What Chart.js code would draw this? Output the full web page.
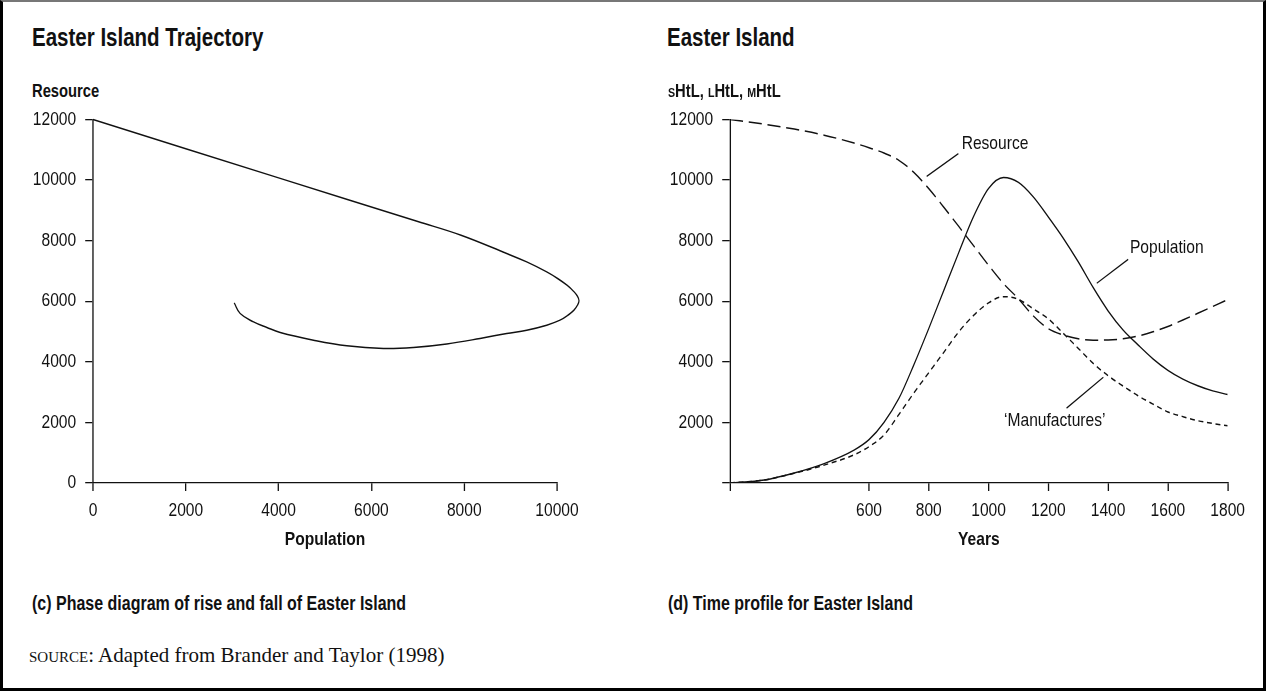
<!DOCTYPE html>
<html>
<head>
<meta charset="utf-8">
<title>Easter Island</title>
<script src="https://cdn.jsdelivr.net/npm/chart.js@4.4.1/dist/chart.umd.min.js"></script>
<style>
  html, body { margin: 0; padding: 0; background: #fff; }
  body { position: relative; width: 1266px; height: 691px; overflow: hidden;
         font-family: 'Liberation Sans', Arial, sans-serif; color: #111; }
  #frame { position: absolute; left: 0; top: 0; width: 1266px; height: 691px; box-sizing: border-box;
           border: 3px solid #000; border-top: 2px solid #777; z-index: 5; }
  .t { position: absolute; white-space: nowrap; line-height: 1; }
  /* narrow look: squeeze regular Liberation Sans horizontally */
  .n { transform: scaleX(0.82); transform-origin: 0 0; }
  .title { font-size: 25px; font-weight: bold; top: 25px; }
  .ylab { font-size: 18px; font-weight: bold; top: 82px; }
  .cap { font-size: 19.5px; font-weight: bold; top: 594px; }
  .sc { font-variant: small-caps; }
  .src { font-family: 'Liberation Serif', 'DejaVu Serif', serif; font-size: 21px; top: 645px; left: 29px; }
  canvas { position: absolute; top: 97px; }
</style>
</head>
<body>
<div id="frame"></div>

<div class="t n title" style="left:32px">Easter Island Trajectory</div>
<div class="t n ylab" style="left:32px">Resource</div>
<canvas id="phase" width="680" height="463" style="left:30px"></canvas>
<div class="t n cap" style="left:32px">(c) Phase diagram of rise and fall of Easter Island</div>

<div class="t n title" style="left:667px">Easter Island</div>
<div class="t n ylab" style="left:668px"><span class="sc">s</span>HtL, <span class="sc">l</span>HtL, <span class="sc">m</span>HtL</div>
<canvas id="profile" width="729" height="463" style="left:660px"></canvas>
<div class="t n cap" style="left:668px">(d) Time profile for Easter Island</div>

<div class="t src"><span class="sc">source</span>: Adapted from Brander and Taylor (1998)</div>

<script>
// phase diagram: population vs resource along the trajectory
const trajPopulation = [0, 4000, 7000, 7932, 8916, 9347, 9778, 10021, 10215, 10355, 10441, 10474, 10441, 10366, 10237, 10065, 9778, 9347, 8916, 8342, 7624, 6905, 6259, 5470, 4752, 4034, 3747, 3460, 3172, 3043];
const trajResource   = [12000, 10070, 8630, 8177, 7573, 7297, 6967, 6742, 6528, 6330, 6165, 6017, 5869, 5704, 5539, 5374, 5209, 5044, 4934, 4770, 4590, 4473, 4440, 4528, 4715, 4968, 5132, 5318, 5594, 5945];

// time profile
const years        = [135, 250, 350, 450, 550, 600, 650, 700, 750, 800, 850, 900, 950, 1000, 1050, 1100, 1150, 1200, 1250, 1300, 1350, 1400, 1450, 1500, 1550, 1600, 1650, 1700, 1750, 1800];
const resource     = [12000, 11840, 11680, 11480, 11220, 11065, 10890, 10650, 10250, 9715, 9105, 8470, 7830, 7185, 6580, 6080, 5510, 5090, 4885, 4760, 4715, 4720, 4760, 4850, 4990, 5165, 5380, 5600, 5825, 6050];
const population   = [0, 100, 330, 640, 1085, 1430, 2000, 2790, 3900, 5100, 6350, 7600, 8800, 9720, 10080, 9920, 9440, 8780, 8080, 7300, 6450, 5680, 5050, 4560, 4100, 3720, 3430, 3210, 3040, 2920];
const manufactures = [0, 100, 320, 590, 930, 1200, 1580, 2260, 2970, 3640, 4310, 4985, 5530, 5945, 6150, 6060, 5745, 5415, 4940, 4445, 3950, 3540, 3200, 2880, 2605, 2345, 2190, 2055, 1965, 1890];

const yearTicks = [600, 800, 1000, 1200, 1400, 1600, 1800];
const yearStart = 135;

const notes = [
  { text: 'Resource', x: 910, y: 11180, from: [793, 10120], to: [899, 10870] },
  { text: 'Population', x: 1473, y: 7750, from: [1362, 6590], to: [1467, 7380] },
  { text: '\u2018Manufactures\u2019', x: 1052, y: 2050, from: [1261, 2470], to: [1384, 3490] }
];

const FONT = "'Liberation Sans', Arial, sans-serif";
const NARROW = 0.82; // horizontal squeeze so the text reads like a condensed face
Chart.defaults.font.family = FONT;
Chart.defaults.color = '#111';

const ink = '#111';

// draw everything squeezed horizontally; sizes below are in unsqueezed units
const narrowPlugin = {
  id: 'narrow',
  beforeDraw(chart) {
    chart.ctx.setTransform(NARROW, 0, 0, 1, 0, 0);
  },
};

function pairs(xs, ys) {
  return xs.map((x, i) => ({ x: x, y: ys[i] }));
}

function xAxis(extra) {
  return Object.assign({
    type: 'linear',
    grid: { drawOnChartArea: false, color: ink, tickLength: 8, lineWidth: 1.6 },
    border: { color: ink, width: 1.3 },
    afterFit: (s) => { s.height = 77; },
  }, extra);
}

function yAxis(extra) {
  return Object.assign({
    type: 'linear',
    min: 0, max: 12000,
    grid: { drawOnChartArea: false, color: ink, tickLength: 9.5, lineWidth: 1.3 },
    border: { color: ink, width: 1.6 },
  }, extra);
}

const tickFont = { size: 19 };
const titleFont = { size: 19, weight: 'bold' };

new Chart(document.getElementById('phase'), {
  type: 'scatter',
  data: {
    datasets: [{
      data: pairs(trajPopulation, trajResource),
      showLine: true,
      borderColor: ink,
      borderWidth: 1.5,
      pointRadius: 0,
      tension: 0.4,
      capBezierPoints: false,
      clip: false,
    }],
  },
  options: {
    responsive: false,
    animation: false,
    // the nose of the loop runs past the 10000 end of the axis
    elements: { line: { capBezierPoints: false } },
    layout: { padding: { top: 0, right: 37.3, bottom: 0, left: 0 } },
    plugins: { legend: { display: false }, tooltip: { enabled: false } },
    scales: {
      x: xAxis({
        min: 0, max: 10000,
        ticks: { stepSize: 2000, font: tickFont, padding: 8, color: ink, callback: (v) => String(v) },
        title: { display: true, text: 'Population', color: ink, font: titleFont, padding: { top: 0, bottom: 9 } },
      }),
      y: yAxis({
        ticks: { stepSize: 2000, font: tickFont, padding: 11, color: ink, callback: (v) => String(v) },
        afterFit: (s) => { s.width = 63 / NARROW; },
      }),
    },
  },
  plugins: [narrowPlugin],
});

const notePlugin = {
  id: 'notes',
  afterDatasetsDraw(chart) {
    const { ctx, scales: { x, y } } = chart;
    ctx.save();
    ctx.strokeStyle = ink;
    ctx.fillStyle = ink;
    ctx.lineWidth = 1.3;
    ctx.font = '19px ' + FONT;
    ctx.textBaseline = 'middle';
    notes.forEach((n) => {
      ctx.beginPath();
      ctx.moveTo(x.getPixelForValue(n.from[0]), y.getPixelForValue(n.from[1]));
      ctx.lineTo(x.getPixelForValue(n.to[0]), y.getPixelForValue(n.to[1]));
      ctx.stroke();
      ctx.fillText(n.text, x.getPixelForValue(n.x), y.getPixelForValue(n.y));
    });
    ctx.restore();
  },
};

const line = (vals, dash) => ({
  data: pairs(years, vals),
  showLine: true,
  borderColor: ink,
  borderWidth: 1.5,
  borderDash: dash,
  pointRadius: 0,
  cubicInterpolationMode: 'monotone',
});

new Chart(document.getElementById('profile'), {
  type: 'scatter',
  data: {
    datasets: [
      line(resource, [16, 7]),
      line(population, []),
      line(manufactures, [6, 4.5]),
    ],
  },
  options: {
    responsive: false,
    animation: false,
    layout: { padding: { top: 0, right: 36.7, bottom: 0, left: 0 } },
    plugins: { legend: { display: false }, tooltip: { enabled: false } },
    scales: {
      x: xAxis({
        min: yearStart, max: 1800,
        afterBuildTicks: (s) => { s.ticks = [yearStart].concat(yearTicks).map((v) => ({ value: v })); },
        ticks: { font: tickFont, padding: 8, color: ink, callback: (v) => (v === yearStart ? '' : String(v)) },
        title: { display: true, text: 'Years', color: ink, font: titleFont, padding: { top: 0, bottom: 9 } },
      }),
      y: yAxis({
        ticks: { stepSize: 2000, font: tickFont, padding: 11, color: ink, callback: (v) => (v === 0 ? '' : String(v)) },
        afterFit: (s) => { s.width = 70 / NARROW; },
      }),
    },
  },
  plugins: [narrowPlugin, notePlugin],
});
</script>
</body>
</html>
